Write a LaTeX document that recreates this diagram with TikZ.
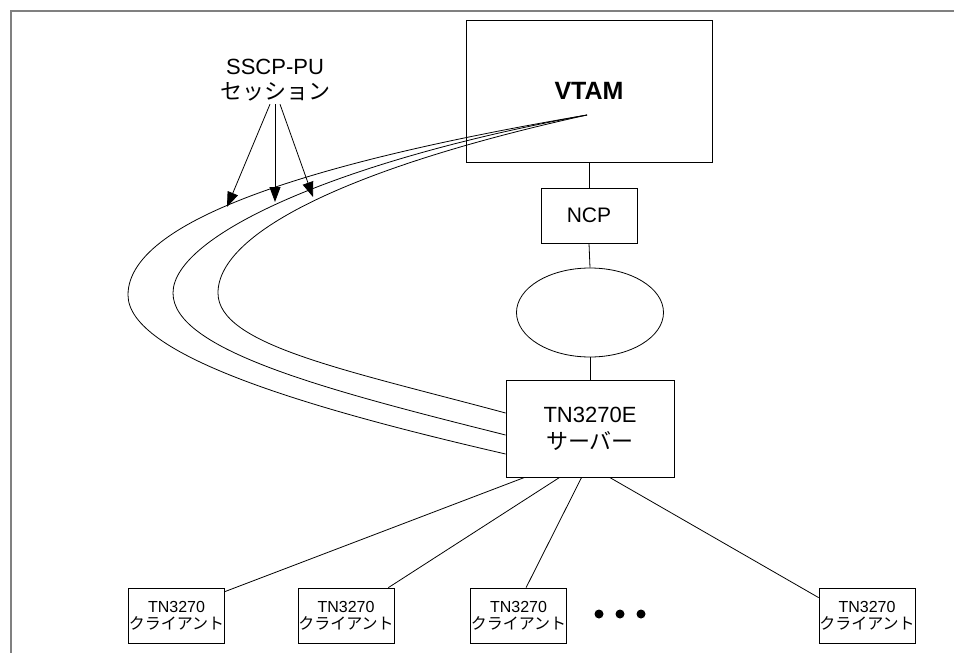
\documentclass[tikz,border=0pt]{standalone}
\usepackage{fontspec}
\setmainfont{Liberation Sans}
\newfontfamily\jpfont{Noto Sans CJK JP}
\usetikzlibrary{arrows.meta,shapes.geometric,calc}
\begin{document}
\begin{tikzpicture}[x=1pt,y=-1pt,
  box/.style={draw,line width=0.8pt,inner sep=0pt,align=center},
  conn/.style={line width=0.8pt},
  client/.style={box,minimum width=96pt,minimum height=55pt,
    font=\fontsize{16}{17}\selectfont},
  pointer/.style={line width=0.8pt,-{Triangle[length=15pt,width=11pt]}},
  dot/.style={circle,fill,inner sep=0pt,minimum size=9pt}]
\useasboundingbox (0,0) rectangle (954,653);
% frame
\draw[gray,line width=2pt] (10.5,653) -- (10.5,10.5) -- (954,10.5);
% nodes
\node[box,minimum width=246pt,minimum height=142pt,font=\fontsize{25}{30}\selectfont\bfseries] (vtam) at (589,91) {VTAM};
\node[box,minimum width=96pt,minimum height=55pt,font=\fontsize{21}{25}\selectfont] (ncp) at (589,215.5) {NCP};
\node[draw,line width=0.8pt,ellipse,inner sep=0pt,minimum width=147pt,minimum height=89pt] (net) at (590,312.5) {};
\node[box,minimum width=168pt,minimum height=97pt,font=\fontsize{22}{27}\selectfont] (server) at (590,428.5) {TN3270E\\{\jpfont サーバー}};
\node[client] (c1) at (176.5,615.5) {TN3270\\{\jpfont クライアント}};
\node[client] (c2) at (346,615.5) {TN3270\\{\jpfont クライアント}};
\node[client] (c3) at (518.5,615.5) {TN3270\\{\jpfont クライアント}};
\node[client] (c5) at (867,615.5) {TN3270\\{\jpfont クライアント}};
\node[dot] (d1) at (599,614) {};
\node[dot] (d2) at (620,614) {};
\node[dot] (d3) at (641,614) {};
\node[align=center,inner sep=0pt,font=\fontsize{22}{25}\selectfont] (lbl) at (275,80) {SSCP-PU\\{\jpfont セッション}};
% vertical links
\draw[conn] (vtam.south) -- (ncp.north);
\draw[conn] (ncp.south) -- (net.north);
\draw[conn] (net.south) -- (server.north);
% client links
\draw[conn] ($(server.south west)+(19,0)$) -- ($(c1.north east)+(0,4)$);
\draw[conn] ($(server.south west)+(54,0)$) -- ($(c2.north east)+(-6,0)$);
\draw[conn] ($(server.south west)+(76,0)$) -- ($(c3.north west)+(56,0)$);
\draw[conn] ($(server.south west)+(104,0)$) -- ($(c5.north west)+(0,10)$);
% sessions
\coordinate (src) at (587,115);
\draw[conn] (src) .. controls (340,157) and (128,215) .. (128,295)
  .. controls (128,355) and (306,408) .. ($(server.west)+(0,25.5)$);
\draw[conn] (src) .. controls (340,160) and (173,235) .. (173,293)
  .. controls (173,350) and (326,390) .. ($(server.west)+(0,6.5)$);
\draw[conn] (src) .. controls (360,165) and (218,230) .. (218,293)
  .. controls (218,345) and (346,370) .. ($(server.west)+(0,-15.5)$);
% pointers
\coordinate (t1) at (227,207);
\coordinate (t2) at (275,202);
\coordinate (t3) at (313,197);
\draw[pointer] ($(lbl.south)+(-5,3)$) -- (t1);
\draw[pointer] ($(lbl.south)+(0,3)$) -- (t2);
\draw[pointer] ($(lbl.south)+(5,3)$) -- (t3);
\end{tikzpicture}
\end{document}
